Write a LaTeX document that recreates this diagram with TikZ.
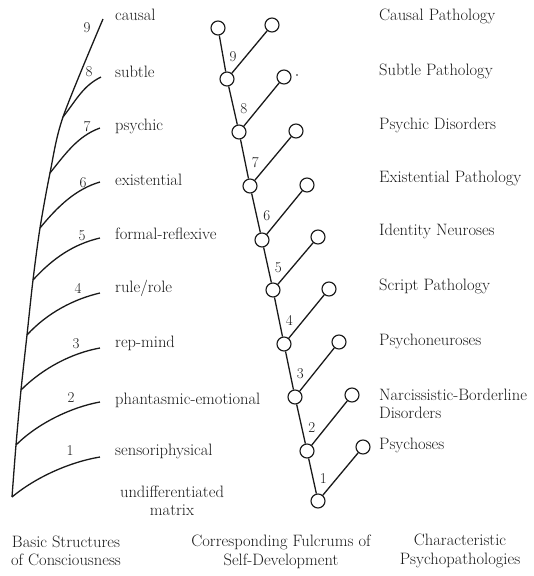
\documentclass[tikz,border=0pt]{standalone}
\usepackage{tikz}
\definecolor{ink}{HTML}{1A1A1A}
\tikzset{fulc/.style={circle,draw=ink,line width=1.15pt,minimum size=14pt,inner sep=0pt},
  rung/.style={draw=ink,line width=1.3pt},
  num/.style={font=\fontsize{15}{17}\selectfont,text=ink,inner sep=1pt},
  lab/.style={font=\fontsize{16.5}{18}\selectfont,text=ink,anchor=west,inner sep=0pt,
    text height=1.5ex,text depth=.25ex},
  colcap/.style={font=\fontsize{16.5}{18.5}\selectfont,text=ink,align=center,inner sep=0pt}}

\begin{document}
\begin{tikzpicture}[x=1pt,y=-1pt]
  \useasboundingbox (0,0) rectangle (534,576);
  % basic structures
  \coordinate (s1) at (12,497); \coordinate (s2) at (16,445);
  \coordinate (s3) at (21,390); \coordinate (s4) at (27,335);
  \coordinate (s5) at (33,280); \coordinate (s6) at (40,228);
  \coordinate (s7) at (50,173); \coordinate (s8) at (63,117);
  \coordinate (e1) at (100,457); \coordinate (e2) at (100,402);
  \coordinate (e3) at (100,348); \coordinate (e4) at (100,293);
  \coordinate (e5) at (100,238); \coordinate (e6) at (100,182);
  \coordinate (e7) at (100,128); \coordinate (e8) at (101,77);
  \coordinate (e9) at (103,19);
  \draw[rung] plot[smooth,tension=0.5] coordinates {(s1) (s2) (s3) (s4) (s5) (s6) (s7) (s8) (e9)};
  \draw[rung] (s1) .. controls +(24,-20) and +(-30,5) .. (e1);
  \draw[rung] (s2) .. controls +(22,-22) and +(-28,5) .. (e2);
  \draw[rung] (s3) .. controls +(22,-22) and +(-28,5) .. (e3);
  \draw[rung] (s4) .. controls +(20,-22) and +(-26,6) .. (e4);
  \draw[rung] (s5) .. controls +(20,-22) and +(-26,6) .. (e5);
  \draw[rung] (s6) .. controls +(18,-22) and +(-24,7) .. (e6);
  \draw[rung] (s7) .. controls +(16,-20) and +(-22,8) .. (e7);
  \draw[rung] (s8) .. controls +(14,-18) and +(-18,9) .. (e8);
  \node[num] (n1) at (70,451) {1}; \node[num] (n2) at (71,398) {2};
  \node[num] (n3) at (76,344) {3}; \node[num] (n4) at (78,288) {4};
  \node[num] (n5) at (82,236) {5}; \node[num] (n6) at (83,183) {6};
  \node[num] (n7) at (87,127) {7}; \node[num] (n8) at (89,72) {8};
  \node[num] (n9) at (87,28) {9};
  \node[lab] (causal) at (115,18) {causal};
  \node[lab] (subtle) at (115,75) {subtle};
  \node[lab] (psychic) at (115,128) {psychic};
  \node[lab] (exist) at (115,183) {existential};
  \node[lab] (formal) at (115,237) {formal-reflexive};
  \node[lab] (rule) at (115,290) {rule/role};
  \node[lab] (rep) at (115,345) {rep-mind};
  \node[lab] (phant) at (115,402) {phantasmic-emotional};
  \node[lab] (senso) at (115,453) {sensoriphysical};
  \node[colcap] (matrix) at (172,501) {undifferentiated\\matrix};
  % fulcrums
  \node[fulc] (c0) at (318,501) {}; \node[fulc] (c1) at (307,451) {};
  \node[fulc] (c2) at (295,397) {}; \node[fulc] (c3) at (284,344) {};
  \node[fulc] (c4) at (273,290) {}; \node[fulc] (c5) at (262,240) {};
  \node[fulc] (c6) at (250,186) {}; \node[fulc] (c7) at (239,132) {};
  \node[fulc] (c8) at (227,79) {};  \node[fulc] (c9) at (218,28) {};
  \node[fulc] (r1) at (363,447) {}; \node[fulc] (r2) at (352,395) {};
  \node[fulc] (r3) at (339,342) {}; \node[fulc] (r4) at (329,289) {};
  \node[fulc] (r5) at (318,237) {}; \node[fulc] (r6) at (307,185) {};
  \node[fulc] (r7) at (296,131) {}; \node[fulc] (r8) at (284,77) {};
  \node[fulc] (r9) at (272,25) {};
  \fill[ink] (297,75) circle (0.9);
  \draw[rung] (c0) -- node[num,pos=0.42,right=5pt] {1} (c1);
  \draw[rung] (c1) -- node[num,pos=0.42,right=5pt] {2} (c2);
  \draw[rung] (c2) -- node[num,pos=0.42,right=5pt] {3} (c3);
  \draw[rung] (c3) -- node[num,pos=0.42,right=5pt] {4} (c4);
  \draw[rung] (c4) -- node[num,pos=0.42,right=5pt] {5} (c5);
  \draw[rung] (c5) -- node[num,pos=0.42,right=5pt] {6} (c6);
  \draw[rung] (c6) -- node[num,pos=0.42,right=5pt] {7} (c7);
  \draw[rung] (c7) -- node[num,pos=0.42,right=5pt] {8} (c8);
  \draw[rung] (c8) -- node[num,pos=0.42,right=5pt] {9} (c9);
  \draw[rung] (c0) -- (r1); \draw[rung] (c1) -- (r2);
  \draw[rung] (c2) -- (r3); \draw[rung] (c3) -- (r4);
  \draw[rung] (c4) -- (r5); \draw[rung] (c5) -- (r6);
  \draw[rung] (c6) -- (r7); \draw[rung] (c7) -- (r8);
  \draw[rung] (c8) -- (r9);
  % psychopathologies
  \node[lab] (pCausal) at (379,18) {Causal Pathology};
  \node[lab] (pSubtle) at (379,73) {Subtle Pathology};
  \node[lab] (pPsychic) at (379,127) {Psychic Disorders};
  \node[lab] (pExist) at (379,180) {Existential Pathology};
  \node[lab] (pIdent) at (379,233) {Identity Neuroses};
  \node[lab] (pScript) at (379,288) {Script Pathology};
  \node[lab] (pNeur) at (379,343) {Psychoneuroses};
  \node[colcap,anchor=west,align=left] (pNarc) at (379,404) {Narcissistic-Borderline\\Disorders};
  \node[lab] (pPsychoses) at (379,447) {Psychoses};
  % column captions
  \node[colcap] (capBasic) at (66,551) {Basic Structures\\of Consciousness};
  \node[colcap] (capFulc) at (281,552) {Corresponding Fulcrums of\\Self-Development};
  \node[colcap] (capPath) at (460,551) {Characteristic\\Psychopathologies};
\end{tikzpicture}
\end{document}
